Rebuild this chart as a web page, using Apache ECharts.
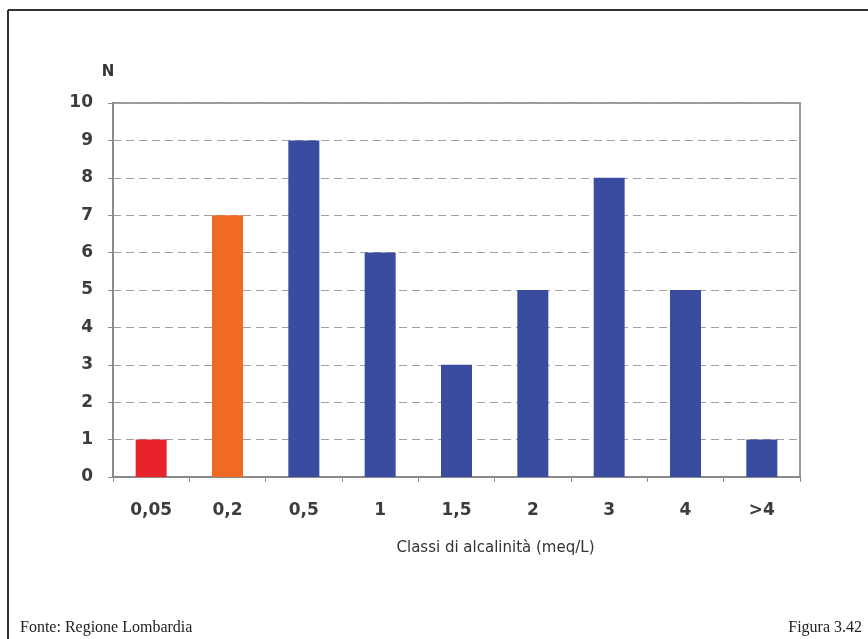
<!DOCTYPE html>
<html>
<head>
<meta charset="utf-8">
<script src="https://cdn.jsdelivr.net/npm/echarts@6/dist/echarts.min.js"></script>
<style>
html,body{margin:0;padding:0;background:#fff;}
#chart{width:868px;height:639px;}
</style>
</head>
<body>
<div id="chart"></div>
<script>
var categories = ['0,05', '0,2', '0,5', '1', '1,5', '2', '3', '4', '>4'];
var counts = [1, 7, 9, 6, 3, 5, 8, 5, 1];
var barColors = ['#e8232a', '#f06a23', '#3a4c9f', '#3a4c9f', '#3a4c9f', '#3a4c9f', '#3a4c9f', '#3a4c9f', '#3a4c9f'];
var yTicks = [0, 10, 1];
var xTitle = 'Classi di alcalinità (meq/L)';
var yTitle = 'N';
var sourceText = 'Fonte: Regione Lombardia';
var figureText = 'Figura 3.42';

var chart = echarts.init(document.getElementById('chart'), null, {renderer: 'canvas'});
var labelFont = {fontFamily: 'DejaVu Sans', fontSize: 17, fontWeight: 'bold', color: '#3c3c3c'};
chart.setOption({
  animation: false,
  backgroundColor: '#ffffff',
  grid: {left: 113, top: 103, right: 68, bottom: 162, show: true, borderColor: '#9a9a9a', borderWidth: 2, backgroundColor: 'transparent'},
  xAxis: {
    type: 'category',
    data: categories,
    name: xTitle,
    nameLocation: 'middle',
    nameGap: 64,
    nameTextStyle: {fontFamily: 'DejaVu Sans', fontSize: 15, color: '#333', padding: [0, 0, 0, 78]},
    axisLine: {lineStyle: {color: '#8a8a8a', width: 2}},
    axisTick: {show: true, alignWithLabel: false, inside: false, length: 5, lineStyle: {color: '#8a8a8a', width: 1}},
    axisLabel: Object.assign({margin: 25}, labelFont),
    splitLine: {show: false}
  },
  yAxis: {
    type: 'value',
    min: yTicks[0],
    max: yTicks[1],
    interval: yTicks[2],
    name: yTitle,
    nameLocation: 'end',
    nameGap: 23,
    nameTextStyle: {fontFamily: 'DejaVu Sans', fontSize: 15, fontWeight: 'bold', color: '#333', padding: [0, 10, 0, 0]},
    axisLine: {show: true, lineStyle: {color: '#8a8a8a', width: 2}},
    axisTick: {show: true, inside: false, length: 5, lineStyle: {color: '#8a8a8a', width: 1}},
    axisLabel: Object.assign({margin: 20}, labelFont),
    splitLine: {show: true, lineStyle: {color: '#a0a0a0', type: [8, 5], width: 1}}
  },
  series: [{
    type: 'bar',
    data: counts.map(function (v, i) { return {value: v, itemStyle: {color: barColors[i]}}; }),
    barWidth: 31
  }],
  graphic: [
    {type: 'line', shape: {x1: 8, y1: 10, x2: 868, y2: 10}, style: {stroke: '#333', lineWidth: 2}},
    {type: 'line', shape: {x1: 8, y1: 10, x2: 8, y2: 639}, style: {stroke: '#333', lineWidth: 2}},
    {type: 'text', left: 20, top: 620, style: {text: sourceText, font: '16px "Liberation Serif"', fill: '#222'}},
    {type: 'text', right: 6, top: 620, style: {text: figureText, font: '16px "Liberation Serif"', fill: '#222'}}
  ]
});
</script>
</body>
</html>
